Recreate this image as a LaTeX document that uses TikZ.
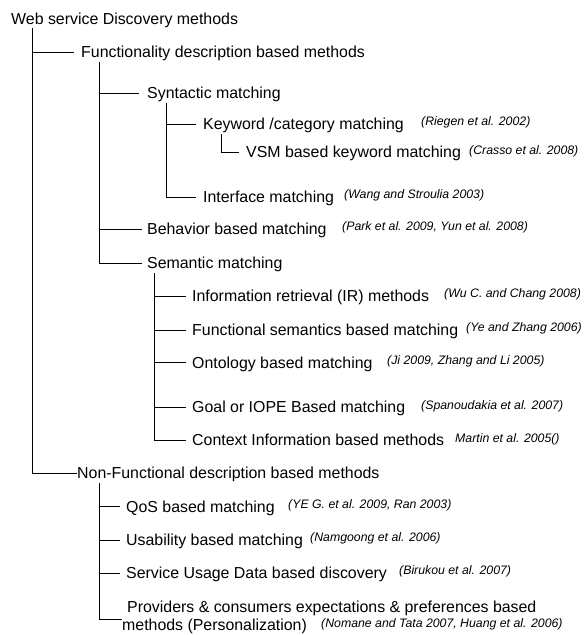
\documentclass[tikz,border=0pt]{standalone}
\usepackage{fontspec}
\setmainfont{Liberation Sans}
\tikzstyle{method} = [anchor=west, inner xsep=0pt, inner ysep=2pt,
    text height=13.3pt, text depth=2pt, font=\fontsize{15.9}{18.3}\selectfont]
\tikzstyle{cite} = [anchor=west, inner sep=0pt, text height=9pt, text depth=2.6pt,
    font=\fontsize{12.3}{14}\selectfont\itshape]
\tikzstyle{branch} = [draw, line width=0.8pt]
\begin{document}
\begin{tikzpicture}[x=1pt, y=-1pt]
		\useasboundingbox (0,0) rectangle (587,635);
		\node [method] (root) at (11,18.5) {Web service Discovery methods};
		\node [method] (func) at (81,52) {Functionality description based methods};
		\node [method] (syn) at (147,93) {Syntactic matching};
		\node [method] (kw) at (203,124) {Keyword /category matching};
		\node [method] (vsm) at (246,152) {VSM based keyword matching};
		\node [method] (iface) at (203,197) {Interface matching};
		\node [method] (behav) at (147,229.3) {Behavior based matching};
		\node [method] (sem) at (147,263.3) {Semantic matching};
		\node [method] (info) at (192,296) {Information retrieval (IR) methods};
		\node [method] (fsem) at (192,330) {Functional semantics based matching};
		\node [method] (onto) at (192,362.7) {Ontology based matching};
		\node [method] (goal) at (192,407.3) {Goal or IOPE Based matching};
		\node [method] (ctx) at (192,440) {Context Information based methods};
		\node [method] (nonfunc) at (77,473.3) {Non-Functional description based methods};
		\node [method] (qos) at (126,506.7) {QoS based matching};
		\node [method] (usab) at (126,540) {Usability based matching};
		\node [method] (usage) at (126,573.3) {Service Usage Data based discovery};
		\node [anchor=base west, inner sep=0pt, align=left, font=\fontsize{15.9}{18.3}\selectfont]
			(prov) at (122,630.7) {\hspace*{5pt}Providers \& consumers expectations \& preferences based\\methods (Personalization)};

		\node [cite] (riegen) at (421,122) {(Riegen et al. 2002)};
		\node [cite] (crasso) at (469,151) {(Crasso et al. 2008)};
		\node [cite] (wang) at (344,195) {(Wang and Stroulia 2003)};
		\node [cite] (park) at (342,227) {(Park et al. 2009, Yun et al. 2008)};
		\node [cite] (wu) at (444,294.5) {(Wu C. and Chang 2008)};
		\node [cite] (ye) at (466,328.5) {(Ye and Zhang 2006)};
		\node [cite] (ji) at (387,361) {(Ji 2009, Zhang and Li 2005)};
		\node [cite] (spano) at (421,406) {(Spanoudakia et al. 2007)};
		\node [cite] (martin) at (455,439) {Martin et al. 2005()};
		\node [cite] (yeg) at (288,505) {(YE G. et al. 2009, Ran 2003)};
		\node [cite] (namg) at (310,538) {(Namgoong et al. 2006)};
		\node [cite] (biru) at (399,571) {(Birukou et al. 2007)};
		\node [cite] (nomane) at (321,624) {(Nomane and Tata 2007, Huang et al. 2006)};

		\path [branch] ([xshift=21pt]root.south west) |- ([xshift=-7pt]func.west);
		\path [branch] ([xshift=21pt]root.south west) |- (nonfunc.west);
		\path [branch] ([xshift=18pt]func.south west) |- ([xshift=-8pt]syn.west);
		\path [branch] ([xshift=18pt]func.south west) |- ([xshift=-5pt]behav.west);
		\path [branch] ([xshift=18pt]func.south west) |- ([xshift=-5pt]sem.west);
		\path [branch] ([xshift=19pt]syn.south west) |- ([xshift=-7pt]kw.west);
		\path [branch] ([xshift=19pt]syn.south west) |- ([xshift=-7pt]iface.west);
		\path [branch] ([xshift=18pt]kw.south west) |- ([xshift=-7pt]vsm.west);
		\path [branch] ([xshift=7pt]sem.south west) |- ([xshift=-6pt]info.west);
		\path [branch] ([xshift=7pt]sem.south west) |- ([xshift=-6pt]fsem.west);
		\path [branch] ([xshift=7pt]sem.south west) |- ([xshift=-6pt]onto.west);
		\path [branch] ([xshift=7pt]sem.south west) |- ([xshift=-6pt]goal.west);
		\path [branch] ([xshift=7pt]sem.south west) |- ([xshift=-6pt]ctx.west);
		\path [branch] ([xshift=22pt]nonfunc.south west) |- ([xshift=-6pt]qos.west);
		\path [branch] ([xshift=22pt]nonfunc.south west) |- ([xshift=-6pt]usab.west);
		\path [branch] ([xshift=22pt]nonfunc.south west) |- ([xshift=-6pt]usage.west);
		\path [branch] ([xshift=22pt]nonfunc.south west) |- ([yshift=-2pt]prov.west);
	\end{tikzpicture}
\end{document}
